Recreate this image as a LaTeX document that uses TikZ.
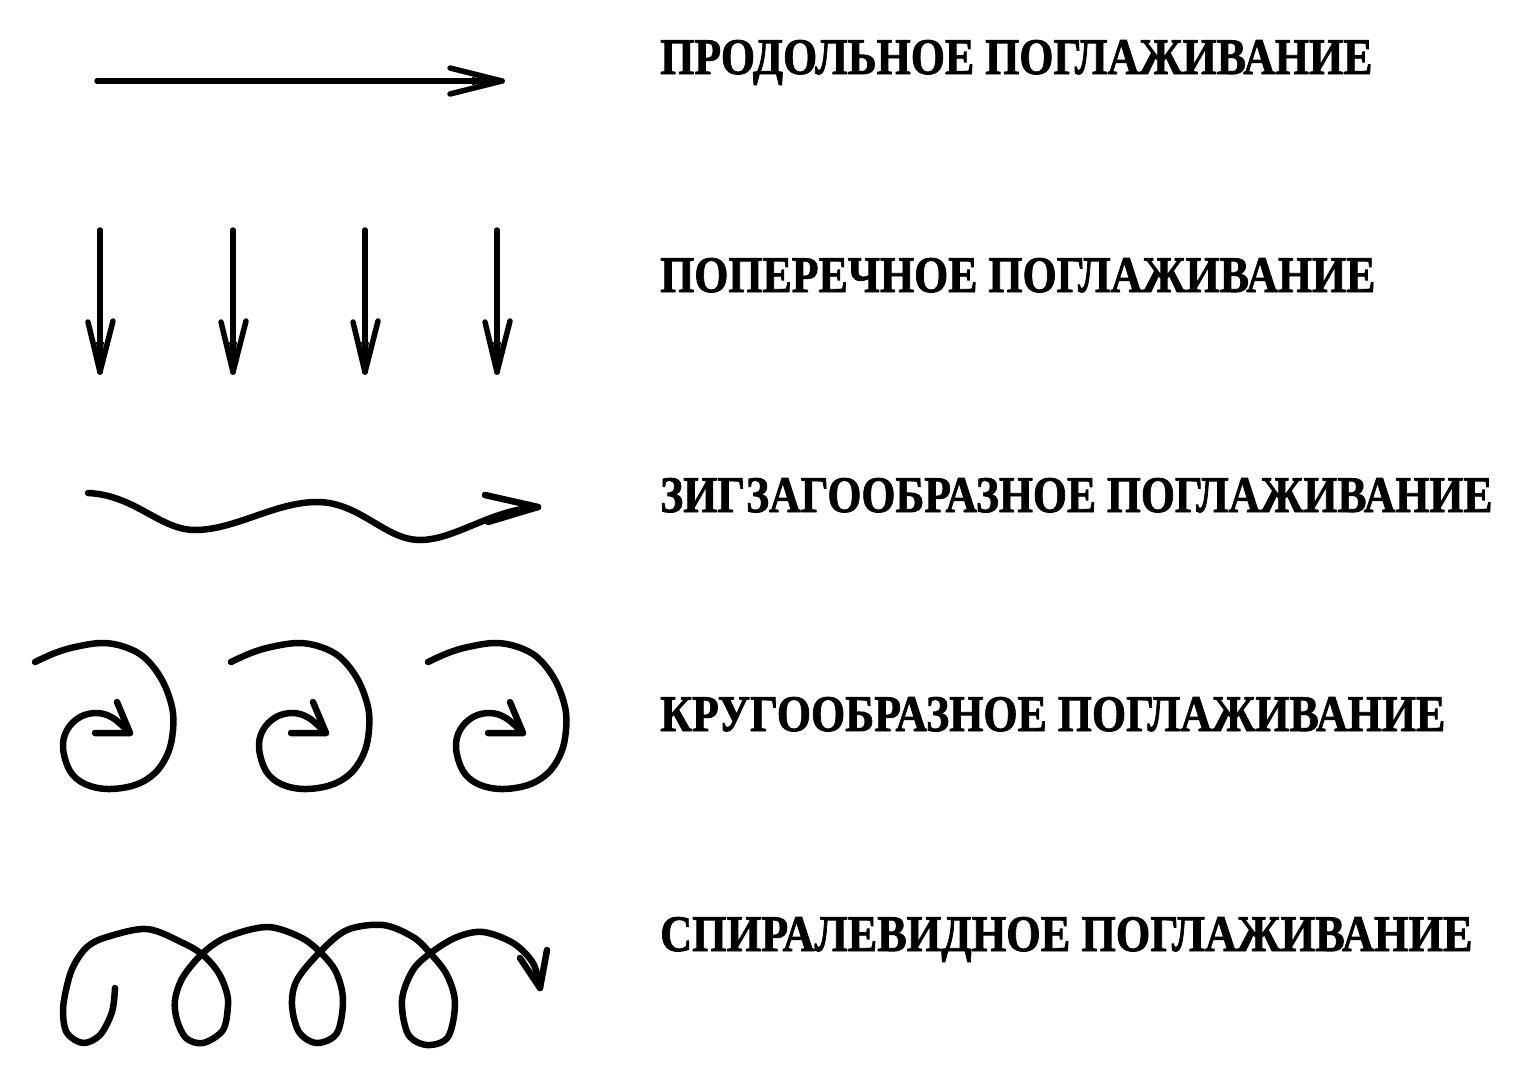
\documentclass[tikz,border=0pt]{standalone}
\usepackage{fontspec}
\setmainfont{Liberation Serif}[BoldFeatures={FakeBold=1.6}]
\usetikzlibrary{calc}
\newcommand\caplabel[2]{\resizebox{#1}{34pt}{\bfseries #2}}
\begin{document}
\begin{tikzpicture}[x=1pt,y=-1pt,
  stroke/.style={line width=5.5pt, line cap=round, line join=round},
  curve/.style={stroke, line width=6.5pt},
  lab/.style={anchor=base west, inner sep=0pt}]
\useasboundingbox (0,0) rectangle (1534,1071);

% 1: longitudinal stroking
\coordinate (a1s) at (97,81);
\coordinate (a1e) at (502,81);
\coordinate (a1b1) at (450,68);
\coordinate (a1b2) at (450,94);
\draw[stroke] (a1s) -- (a1e);
\draw[stroke] (a1b1) -- (a1e) -- (a1b2);
\fill (a1e) -- ($(a1e)+(-30,-4)$) -- ($(a1e)+(-30,4)$) -- cycle;

% 2: transverse stroking
\foreach \x [count=\i] in {100,233,365,497}{
  \coordinate (d\i s) at (\x,230);
  \coordinate (d\i e) at (\x,372);
  \coordinate (d\i b1) at (\x-12,322);
  \coordinate (d\i b2) at (\x+13,321);
  \draw[stroke] (d\i s) -- (d\i e);
  \draw[stroke] (d\i b1) -- (d\i e) -- (d\i b2);
  \fill (d\i e) -- ($(d\i e)+(-4,-30)$) -- ($(d\i e)+(4,-30)$) -- cycle;
}

% 3: zigzag stroking
\coordinate (zs) at (88,493);
\coordinate (zt) at (538,507);
\coordinate (zb1) at (485,495);
\coordinate (zb2) at (488,522);
\draw[curve] (zs) .. controls (135,495) and (160,530) .. (195,530)
  .. controls (235,530) and (275,502) .. (317,502)
  .. controls (360,502) and (385,540) .. (420,540)
  .. controls (455,540) and (490,510) .. (zt);
\draw[curve] (zb1) -- (zt) -- (zb2);

% 4: circular stroking
\foreach \dx [count=\i] in {0,196,393}{
  \begin{scope}[shift={(\dx,0)}]
  \coordinate (c\i t) at (130,733);
  \coordinate (c\i b1) at (117,702);
  \coordinate (c\i b2) at (95,733);
  \draw[curve]
    plot[smooth,tension=0.6] coordinates {(35,662) (55,653) (75,647) (102,643) (125,647) (145,658) (162,680) (172,707) (173,730) (168,753) (155,773) (135,785) (108,789) (85,784) (70,771) (63,748) (67,730) (80,717) (97,713) (113,718) (130,733)};
  \draw[curve] (c\i b1) -- (c\i t) -- (c\i b2);
  \end{scope}
}

% 5: spiral stroking
\coordinate (ht) at (540,988);
\coordinate (hb1) at (520,958);
\coordinate (hb2) at (547,950);
\draw[curve]
  plot[smooth,tension=0.55] coordinates {(115,988) (112,1012) (100,1035) (83,1043) (67,1033) (63,1012) (66,990) (73,967) (87,947) (107,937) (147,929) (183,943) (203,955) (218,972) (226,990) (228,1005) (223,1030) (203,1043) (186,1038) (177,1020) (175,1000) (183,977) (203,953) (227,937) (267,927) (300,937) (320,952) (336,972) (343,1000) (337,1033) (317,1043) (299,1032) (292,1005) (297,980) (320,952) (347,930) (383,925) (413,937) (430,953) (447,975) (455,1003) (448,1037) (427,1045) (408,1034) (402,1000) (413,970) (432,952) (457,937) (483,932) (513,943) (533,963) (540,988)};
\draw[curve] (hb1) -- (ht) -- (hb2);

% labels
\node[lab] (t1) at (660,74)  {\caplabel{712pt}{ПРОДОЛЬНОЕ ПОГЛАЖИВАНИЕ}};
\node[lab] (t2) at (660,292) {\caplabel{715pt}{ПОПЕРЕЧНОЕ ПОГЛАЖИВАНИЕ}};
\node[lab] (t3) at (660,512) {\caplabel{832pt}{ЗИГЗАГООБРАЗНОЕ ПОГЛАЖИВАНИЕ}};
\node[lab] (t4) at (660,731) {\caplabel{785pt}{КРУГООБРАЗНОЕ ПОГЛАЖИВАНИЕ}};
\node[lab] (t5) at (660,951) {\caplabel{812pt}{СПИРАЛЕВИДНОЕ ПОГЛАЖИВАНИЕ}};
\end{tikzpicture}
\end{document}
